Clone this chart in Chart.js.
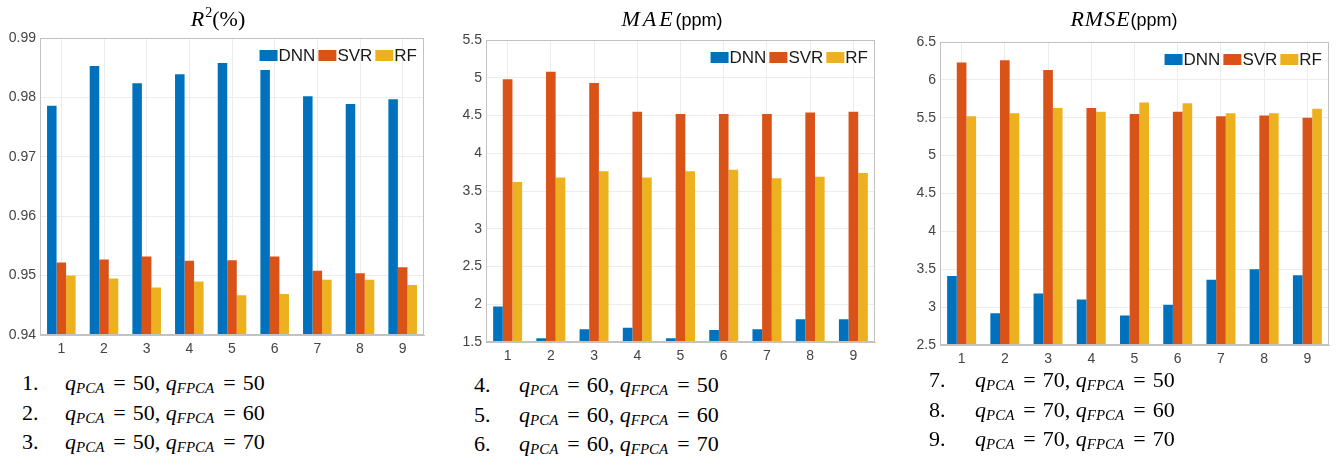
<!DOCTYPE html>
<html>
<head>
<meta charset="utf-8">
<script src="https://cdn.jsdelivr.net/npm/chart.js@4.4.1/dist/chart.umd.min.js"></script>
<style>
  body { margin: 0; background: #fff; }
  #wrap { position: relative; width: 1337px; height: 456px; overflow: hidden; background: #fff; }
  canvas { position: absolute; top: 0; }
  .title { position: absolute; top: 7px; transform: translateX(-50%); white-space: nowrap;
           font-family: "Liberation Serif", serif; font-size: 22px; line-height: 24px; color: #000; }
  .title i { letter-spacing: 1px; }
  .title sup { font-size: 14px; font-style: normal; vertical-align: 9px; line-height: 0; }
  .title .u { font-family: "Liberation Sans", Arial, sans-serif; font-size: 18px; }
  .note { position: absolute; white-space: nowrap; font-family: "Liberation Serif", serif;
          font-size: 22px; line-height: 22px; color: #000; }
  .note sub { font-size: 15px; line-height: 0; vertical-align: -3px; font-style: italic; }
  .note .eq { margin: 0 7px 0 9px; }
</style>
</head>
<body>
<div id="wrap">
  <canvas id="c1" width="446" height="370" style="left:0"></canvas>
  <canvas id="c2" width="446" height="370" style="left:446px"></canvas>
  <canvas id="c3" width="445" height="370" style="left:892px"></canvas>
  <div class="title" style="left:218px"><i>R</i><sup>2</sup>(%)</div>
  <div class="title" style="left:672px"><i style="letter-spacing:3px">MAE</i><span class="u">(ppm)</span></div>
  <div class="title" style="left:1124px"><i>RMSE</i><span class="u">(ppm)</span></div>
</div>
<script>
// nine parameter settings, one per group of bars
const settings = ['1', '2', '3', '4', '5', '6', '7', '8', '9'];
const qPCA = [50, 50, 50, 60, 60, 60, 70, 70, 70];
const qFPCA = [50, 60, 70, 50, 60, 70, 50, 60, 70];

const models = ['DNN', 'SVR', 'RF'];
const modelColors = ['#0072BD', '#D95319', '#EDB120'];

const r2Dnn = [0.9786, 0.9853, 0.9824, 0.9839, 0.9858, 0.9846, 0.9802, 0.9789, 0.9797];
const r2Svr = [0.9522, 0.9527, 0.9532, 0.9525, 0.9526, 0.9532, 0.9508, 0.9504, 0.9514];
const r2Rf = [0.9500, 0.9495, 0.9480, 0.9490, 0.9467, 0.9469, 0.9493, 0.9493, 0.9484];

const maeDnn = [1.97, 1.55, 1.67, 1.69, 1.55, 1.66, 1.67, 1.80, 1.80];
const maeSvr = [4.98, 5.08, 4.93, 4.55, 4.52, 4.52, 4.52, 4.54, 4.55];
const maeRf = [3.62, 3.68, 3.76, 3.68, 3.76, 3.78, 3.67, 3.69, 3.74];

const rmseDnn = [3.41, 2.92, 3.18, 3.10, 2.89, 3.03, 3.36, 3.50, 3.42];
const rmseSvr = [6.23, 6.26, 6.13, 5.63, 5.55, 5.58, 5.52, 5.53, 5.50];
const rmseRf = [5.52, 5.56, 5.63, 5.58, 5.70, 5.69, 5.56, 5.56, 5.62];

// box around the plot area, like a MATLAB axes
const frame = {
  id: 'frame',
  afterDraw(chart) {
    const { ctx, chartArea: a } = chart;
    ctx.save();
    ctx.strokeStyle = '#c2c2c2';
    ctx.lineWidth = 1;
    ctx.strokeRect(Math.round(a.left) + 0.5, Math.round(a.top) + 0.5,
      Math.round(a.right - a.left) - 1, Math.round(a.bottom - a.top) - 1);
    ctx.restore();
  }
};

// compact legend tucked into the top-right corner of the plot
const cornerLegend = {
  id: 'cornerLegend',
  afterDraw(chart) {
    const { ctx, chartArea: a } = chart;
    const boxW = 18, boxH = 11, gap = 1, sep = 3;
    ctx.save();
    ctx.font = '17px "Liberation Sans", Arial, sans-serif';
    ctx.textBaseline = 'middle';
    const items = chart.data.datasets.map(d => ({
      label: d.label, color: d.backgroundColor, w: ctx.measureText(d.label).width
    }));
    const total = items.reduce((s, it) => s + boxW + gap + it.w, 0) + sep * (items.length - 1);
    let x = a.right - 7 - total;
    const y = a.top + 17.5;
    items.forEach(it => {
      ctx.fillStyle = it.color;
      ctx.fillRect(x, y - boxH / 2, boxW, boxH);
      x += boxW + gap;
      ctx.fillStyle = '#1a1a1a';
      ctx.fillText(it.label, x, y + 1);
      x += it.w + sep;
    });
    ctx.restore();
  }
};

function makeChart(id, series, range, layout) {
  new Chart(document.getElementById(id), {
    type: 'bar',
    data: {
      labels: settings,
      datasets: series.map((values, i) => ({
        label: models[i],
        data: values,
        backgroundColor: modelColors[i],
        borderWidth: 0,
        categoryPercentage: 0.67,
        barPercentage: 1.0
      }))
    },
    options: {
      responsive: false,
      animation: false,
      layout: { padding: { left: 0, right: layout.right, top: layout.top, bottom: 0 } },
      plugins: { legend: { display: false }, tooltip: { enabled: false } },
      scales: {
        x: {
          afterFit: (axis) => { axis.height = layout.xHeight; },
          grid: { offset: false, color: '#ececec', drawTicks: false },
          border: { color: '#c2c2c2' },
          ticks: { padding: 6, color: '#444', font: { family: '"Liberation Sans", Arial', size: 14 } }
        },
        y: {
          min: range.min,
          max: range.max,
          afterFit: (axis) => { axis.width = layout.yWidth; },
          grid: { color: '#ececec', drawTicks: false },
          border: { color: '#c2c2c2' },
          ticks: {
            stepSize: range.step,
            padding: 4,
            color: '#444',
            font: { family: '"Liberation Sans", Arial', size: 14 },
            callback: (v) => String(+v.toFixed(2))
          }
        }
      }
    },
    plugins: [frame, cornerLegend]
  });
}

makeChart('c1', [r2Dnn, r2Svr, r2Rf], { min: 0.94, max: 0.99, step: 0.01 },
  { yWidth: 40, right: 22, top: 38, xHeight: 35 });
makeChart('c2', [maeDnn, maeSvr, maeRf], { min: 1.5, max: 5.5, step: 0.5 },
  { yWidth: 40, right: 17, top: 40, xHeight: 28 });
makeChart('c3', [rmseDnn, rmseSvr, rmseRf], { min: 2.5, max: 6.5, step: 0.5 },
  { yWidth: 48, right: 8, top: 42, xHeight: 25 });

// setting list under each chart: three settings per column
const wrap = document.getElementById('wrap');
const noteCols = [
  { num: 22, formula: 65, top: 372 },
  { num: 474, formula: 519, top: 374 },
  { num: 929, formula: 975, top: 369 }
];
settings.forEach((s, i) => {
  const col = noteCols[Math.floor(i / 3)];
  const top = col.top + (i % 3) * 29.5;
  const num = document.createElement('div');
  num.className = 'note';
  num.style.left = col.num + 'px';
  num.style.top = top + 'px';
  num.textContent = s + '.';
  wrap.appendChild(num);
  const f = document.createElement('div');
  f.className = 'note';
  f.style.left = col.formula + 'px';
  f.style.top = top + 'px';
  f.innerHTML = '<i>q</i><sub>PCA</sub><span class="eq">=</span>' + qPCA[i] +
    ', <i>q</i><sub>FPCA</sub><span class="eq">=</span>' + qFPCA[i];
  wrap.appendChild(f);
});
</script>
</body>
</html>
